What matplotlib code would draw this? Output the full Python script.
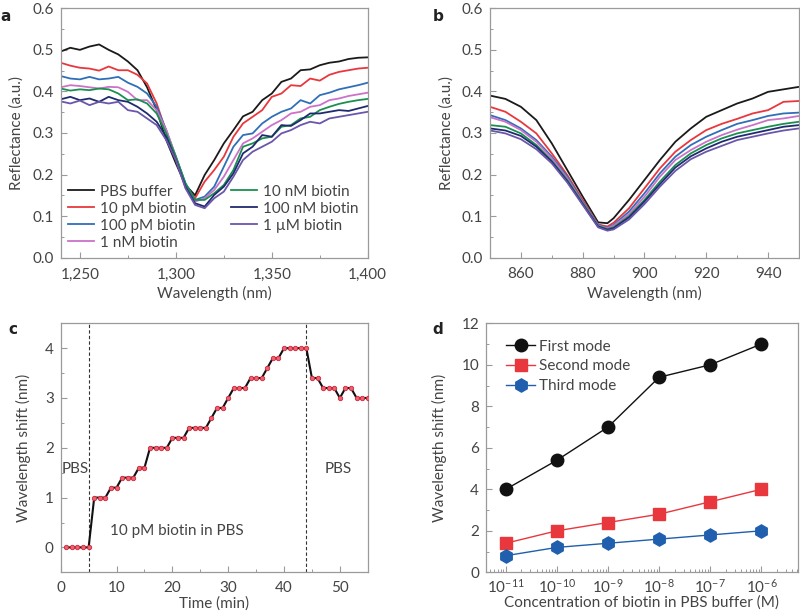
import math
import matplotlib
matplotlib.use("Agg")
import matplotlib.pyplot as plt
from matplotlib.ticker import MultipleLocator, FuncFormatter, LogLocator, NullFormatter

plt.rcParams['font.family'] = ['Lato', 'DejaVu Sans']
plt.rcParams['mathtext.fontset'] = 'custom'
plt.rcParams['mathtext.rm'] = 'Lato'
plt.rcParams['mathtext.it'] = 'Lato'

# ---------------- data ----------------
series_labels = ["PBS buffer", "10 pM biotin", "100 pM biotin", "1 nM biotin",
                 "10 nM biotin", "100 nM biotin", "1 \u00b5M biotin"]
series_colors = ["#1a1a1a", "#e8383d", "#2f6fb8", "#cc72c8", "#1a9050", "#1f2b6e", "#6a56aa"]

wl_a = [1240, 1245, 1250, 1255, 1260, 1265, 1270, 1275, 1280, 1285, 1290, 1295, 1300,
        1305, 1310, 1315, 1320, 1325, 1330, 1335, 1340, 1345, 1350, 1355, 1360, 1365,
        1370, 1375, 1380, 1385, 1390, 1395, 1400]
a_pbs = [0.496, 0.505, 0.500, 0.508, 0.513, 0.500, 0.489, 0.472, 0.451, 0.410, 0.355, 0.283, 0.227,
         0.175, 0.150, 0.199, 0.235, 0.275, 0.307, 0.340, 0.351, 0.379, 0.395, 0.423, 0.431, 0.451,
         0.453, 0.463, 0.469, 0.472, 0.478, 0.481, 0.482]
a_10pM = [0.469, 0.462, 0.457, 0.455, 0.450, 0.460, 0.451, 0.451, 0.440, 0.419, 0.371, 0.303, 0.235,
          0.171, 0.143, 0.183, 0.211, 0.243, 0.291, 0.323, 0.339, 0.355, 0.387, 0.395, 0.415, 0.413,
          0.431, 0.426, 0.440, 0.447, 0.451, 0.455, 0.457]
a_100pM = [0.437, 0.431, 0.429, 0.435, 0.429, 0.431, 0.435, 0.421, 0.411, 0.395, 0.363, 0.307, 0.243,
           0.179, 0.139, 0.147, 0.171, 0.219, 0.267, 0.295, 0.299, 0.323, 0.339, 0.351, 0.359, 0.379,
           0.371, 0.391, 0.397, 0.405, 0.410, 0.415, 0.421]
a_1nM = [0.410, 0.415, 0.413, 0.410, 0.407, 0.411, 0.410, 0.399, 0.379, 0.379, 0.355, 0.307, 0.243,
         0.171, 0.135, 0.143, 0.163, 0.195, 0.235, 0.275, 0.287, 0.303, 0.319, 0.331, 0.347, 0.351,
         0.363, 0.367, 0.379, 0.383, 0.389, 0.393, 0.397]
a_10nM = [0.407, 0.402, 0.405, 0.403, 0.407, 0.405, 0.395, 0.379, 0.381, 0.371, 0.347, 0.299, 0.243,
          0.179, 0.139, 0.139, 0.155, 0.175, 0.211, 0.267, 0.275, 0.287, 0.291, 0.315, 0.319, 0.335,
          0.339, 0.355, 0.363, 0.370, 0.375, 0.379, 0.382]
a_100nM = [0.381, 0.387, 0.379, 0.383, 0.375, 0.387, 0.379, 0.375, 0.363, 0.347, 0.327, 0.291, 0.235,
           0.171, 0.131, 0.123, 0.151, 0.171, 0.203, 0.251, 0.267, 0.295, 0.291, 0.319, 0.317, 0.331,
           0.347, 0.347, 0.351, 0.355, 0.353, 0.359, 0.365]
a_1uM = [0.376, 0.371, 0.378, 0.367, 0.375, 0.371, 0.375, 0.355, 0.351, 0.335, 0.319, 0.283, 0.235,
         0.167, 0.127, 0.119, 0.143, 0.159, 0.195, 0.235, 0.255, 0.267, 0.279, 0.299, 0.307, 0.319,
         0.327, 0.323, 0.335, 0.339, 0.343, 0.347, 0.351]

wl_b = [850, 855, 860, 865, 870, 875, 880, 885, 888, 890, 895, 900, 905, 910, 915, 920,
        925, 930, 935, 940, 945, 950]
b_pbs = [0.390, 0.382, 0.363, 0.331, 0.275, 0.211, 0.147, 0.085, 0.083, 0.095, 0.139, 0.187,
         0.235, 0.279, 0.311, 0.339, 0.355, 0.371, 0.383, 0.399, 0.405, 0.411]
b_10pM = [0.363, 0.351, 0.327, 0.299, 0.251, 0.199, 0.139, 0.080, 0.075, 0.084, 0.119, 0.167,
          0.215, 0.255, 0.283, 0.307, 0.322, 0.334, 0.347, 0.355, 0.375, 0.377]
b_100pM = [0.343, 0.331, 0.311, 0.283, 0.243, 0.195, 0.135, 0.079, 0.072, 0.079, 0.111, 0.155,
           0.203, 0.243, 0.271, 0.291, 0.307, 0.322, 0.331, 0.341, 0.347, 0.349]
b_1nM = [0.338, 0.327, 0.307, 0.279, 0.239, 0.191, 0.133, 0.077, 0.071, 0.077, 0.105, 0.147,
         0.195, 0.235, 0.259, 0.279, 0.295, 0.308, 0.319, 0.331, 0.335, 0.341]
b_10nM = [0.319, 0.315, 0.299, 0.271, 0.233, 0.187, 0.131, 0.076, 0.069, 0.073, 0.100, 0.139,
          0.183, 0.223, 0.251, 0.271, 0.287, 0.299, 0.307, 0.315, 0.322, 0.327]
b_100nM = [0.311, 0.306, 0.293, 0.267, 0.231, 0.184, 0.129, 0.075, 0.067, 0.071, 0.097, 0.135,
           0.177, 0.217, 0.244, 0.263, 0.279, 0.291, 0.299, 0.307, 0.315, 0.319]
b_1uM = [0.306, 0.299, 0.285, 0.261, 0.227, 0.181, 0.127, 0.073, 0.065, 0.068, 0.092, 0.129,
         0.171, 0.209, 0.237, 0.255, 0.269, 0.283, 0.291, 0.299, 0.306, 0.311]

time_c = [1, 2, 3, 4, 5, 6, 7, 8, 9, 10, 11, 12, 13, 14, 15, 16, 17, 18, 19, 20,
          21, 22, 23, 24, 25, 26, 27, 28, 29, 30, 31, 32, 33, 34, 35, 36, 37, 38, 39, 40,
          41, 42, 43, 44, 45, 46, 47, 48, 49, 50, 51, 52, 53, 54, 55]
shift_c = [0, 0, 0, 0, 0, 1.0, 1.0, 1.0, 1.2, 1.2, 1.4, 1.4, 1.4, 1.6, 1.6, 2.0, 2.0, 2.0, 2.0, 2.2,
           2.2, 2.2, 2.4, 2.4, 2.4, 2.4, 2.6, 2.8, 2.8, 3.0, 3.2, 3.2, 3.2, 3.4, 3.4, 3.4, 3.6, 3.8, 3.8, 4.0,
           4.0, 4.0, 4.0, 4.0, 3.4, 3.4, 3.2, 3.2, 3.2, 3.0, 3.2, 3.2, 3.0, 3.0, 3.0]
switch_times = [5, 44]

conc_d = [1e-11, 1e-10, 1e-9, 1e-8, 1e-7, 1e-6]
first_mode = [4.0, 5.4, 7.0, 9.4, 10.0, 11.0]
second_mode = [1.4, 2.0, 2.4, 2.8, 3.4, 4.0]
third_mode = [0.8, 1.2, 1.4, 1.6, 1.8, 2.0]

# ---------------- style helpers ----------------
TXT = "#444444"
SPINE = "#9a9a9a"
FS = 11

def style(ax, xpad=7):
    for s in ax.spines.values():
        s.set_color(SPINE)
        s.set_linewidth(0.9)
    ax.tick_params(which='both', direction='in', color=SPINE, labelcolor=TXT,
                   labelsize=FS, top=False, right=False)
    ax.tick_params(which='major', length=4, width=0.8, pad=5)
    ax.tick_params(which='minor', length=2.5, width=0.7)
    ax.tick_params(axis='x', which='major', pad=xpad)

fig = plt.figure(figsize=(8.0, 6.14), dpi=100)

ax_a = fig.add_axes([0.0759, 0.5803, 0.3838, 0.4062])
ax_b = fig.add_axes([0.6125, 0.5803, 0.3862, 0.4062])
ax_c = fig.add_axes([0.0759, 0.0679, 0.3838, 0.4056])
ax_d = fig.add_axes([0.6075, 0.0679, 0.3900, 0.4056])

# ---- panel a
a_series = [a_pbs, a_10pM, a_100pM, a_1nM, a_10nM, a_100nM, a_1uM]
for ys, c, lab in zip(a_series, series_colors, series_labels):
    ax_a.plot(wl_a, ys, color=c, lw=1.3, label=lab)
ax_a.set_xlim(1240, 1400)
ax_a.set_ylim(0, 0.6)
ax_a.xaxis.set_major_locator(MultipleLocator(50))
ax_a.xaxis.set_minor_locator(MultipleLocator(25))
ax_a.yaxis.set_major_locator(MultipleLocator(0.1))
ax_a.yaxis.set_minor_locator(MultipleLocator(0.05))
ax_a.xaxis.set_major_formatter(FuncFormatter(lambda v, p: f"{int(v):,}"))
ax_a.yaxis.set_major_formatter(FuncFormatter(lambda v, p: f"{v:.1f}"))
ax_a.set_xlabel("Wavelength (nm)", color=TXT, fontsize=FS, labelpad=3)
ax_a.set_ylabel("Reflectance (a.u.)", color=TXT, fontsize=FS, labelpad=6)
style(ax_a)
leg = ax_a.legend(ncol=2, loc='lower left', bbox_to_anchor=(-0.005, -0.005), frameon=False,
                  fontsize=FS, handlelength=1.7, handletextpad=0.4, columnspacing=2.3,
                  labelspacing=0.2, borderaxespad=0.2)
for t in leg.get_texts():
    t.set_color(TXT)

# ---- panel b
b_series = [b_pbs, b_10pM, b_100pM, b_1nM, b_10nM, b_100nM, b_1uM]
for ys, c in zip(b_series, series_colors):
    ax_b.plot(wl_b, ys, color=c, lw=1.3)
ax_b.set_xlim(850, 950)
ax_b.set_ylim(0, 0.6)
ax_b.xaxis.set_major_locator(MultipleLocator(20))
ax_b.xaxis.set_minor_locator(MultipleLocator(10))
ax_b.yaxis.set_major_locator(MultipleLocator(0.1))
ax_b.yaxis.set_minor_locator(MultipleLocator(0.05))
ax_b.yaxis.set_major_formatter(FuncFormatter(lambda v, p: f"{v:.1f}"))
ax_b.set_xlabel("Wavelength (nm)", color=TXT, fontsize=FS, labelpad=3)
ax_b.set_ylabel("Reflectance (a.u.)", color=TXT, fontsize=FS, labelpad=6)
style(ax_b)

# ---- panel c
ax_c.plot(time_c, shift_c, color="#111111", lw=1.5, marker='o', ms=3.2,
          mfc="#f0606e", mec="#c8283c", mew=0.6, zorder=3)
for t in switch_times:
    ax_c.axvline(t, color="#333333", lw=0.8, ls=(0, (3, 2)))
ax_c.set_xlim(0, 55)
ax_c.set_ylim(-0.5, 4.5)
ax_c.xaxis.set_major_locator(MultipleLocator(10))
ax_c.xaxis.set_minor_locator(MultipleLocator(5))
ax_c.yaxis.set_major_locator(MultipleLocator(1))
ax_c.yaxis.set_minor_locator(MultipleLocator(0.5))
ax_c.set_xlabel("Time (min)", color=TXT, fontsize=FS, labelpad=1)
ax_c.set_ylabel("Wavelength shift (nm)", color=TXT, fontsize=FS, labelpad=10)
style(ax_c, xpad=6)
ax_c.text(2.6, 1.57, "PBS", ha='center', va='center', color=TXT, fontsize=FS)
ax_c.text(8.8, 0.33, "10 pM biotin in PBS", ha='left', va='center', color=TXT, fontsize=FS)
ax_c.text(49.7, 1.57, "PBS", ha='center', va='center', color=TXT, fontsize=FS)

# ---- panel d
ax_d.plot(conc_d, first_mode, color="#111111", lw=1.0, marker='o', ms=9,
          mfc="#111111", mec="#111111", label="First mode", zorder=3)
ax_d.plot(conc_d, second_mode, color="#e8383d", lw=1.0, marker='s', ms=8,
          mfc="#e8383d", mec="#e8383d", label="Second mode", zorder=3)
ax_d.plot(conc_d, third_mode, color="#1f5fae", lw=1.0, marker='h', ms=9.5,
          mfc="#1f5fae", mec="#1f5fae", label="Third mode", zorder=3)
ax_d.set_xscale('log')
ax_d.set_xlim(4.1e-12, 5.2e-6)
ax_d.set_ylim(0, 12)
ax_d.xaxis.set_major_locator(LogLocator(base=10, numticks=20))
ax_d.xaxis.set_minor_locator(LogLocator(base=10, subs=[2, 3, 4, 5, 6, 7, 8, 9], numticks=20))
ax_d.xaxis.set_minor_formatter(NullFormatter())
ax_d.xaxis.set_major_formatter(FuncFormatter(lambda v, p: r"$10^{%d}$" % round(math.log10(v))))
ax_d.yaxis.set_major_locator(MultipleLocator(2))
ax_d.yaxis.set_minor_locator(MultipleLocator(1))
ax_d.set_xlabel("Concentration of biotin in PBS buffer (M)", color=TXT, fontsize=FS, labelpad=0)
ax_d.set_ylabel("Wavelength shift (nm)", color=TXT, fontsize=FS, labelpad=10)
style(ax_d, xpad=4)
legd = ax_d.legend(loc='upper left', bbox_to_anchor=(0.02, 0.99), frameon=False, fontsize=FS,
                   handlelength=1.9, handletextpad=0.25, labelspacing=0.38, markerscale=1.0)
for t in legd.get_texts():
    t.set_color(TXT)

# panel letters
for x, y, s in [(0.0, 0.985, 'a'), (0.541, 0.985, 'b'), (0.01, 0.476, 'c'), (0.541, 0.476, 'd')]:
    fig.text(x, y, s, fontsize=11, fontweight='bold', color='#222222',
             family=['DejaVu Sans'], ha='left', va='top')

fig.savefig("out.png", dpi=100)
